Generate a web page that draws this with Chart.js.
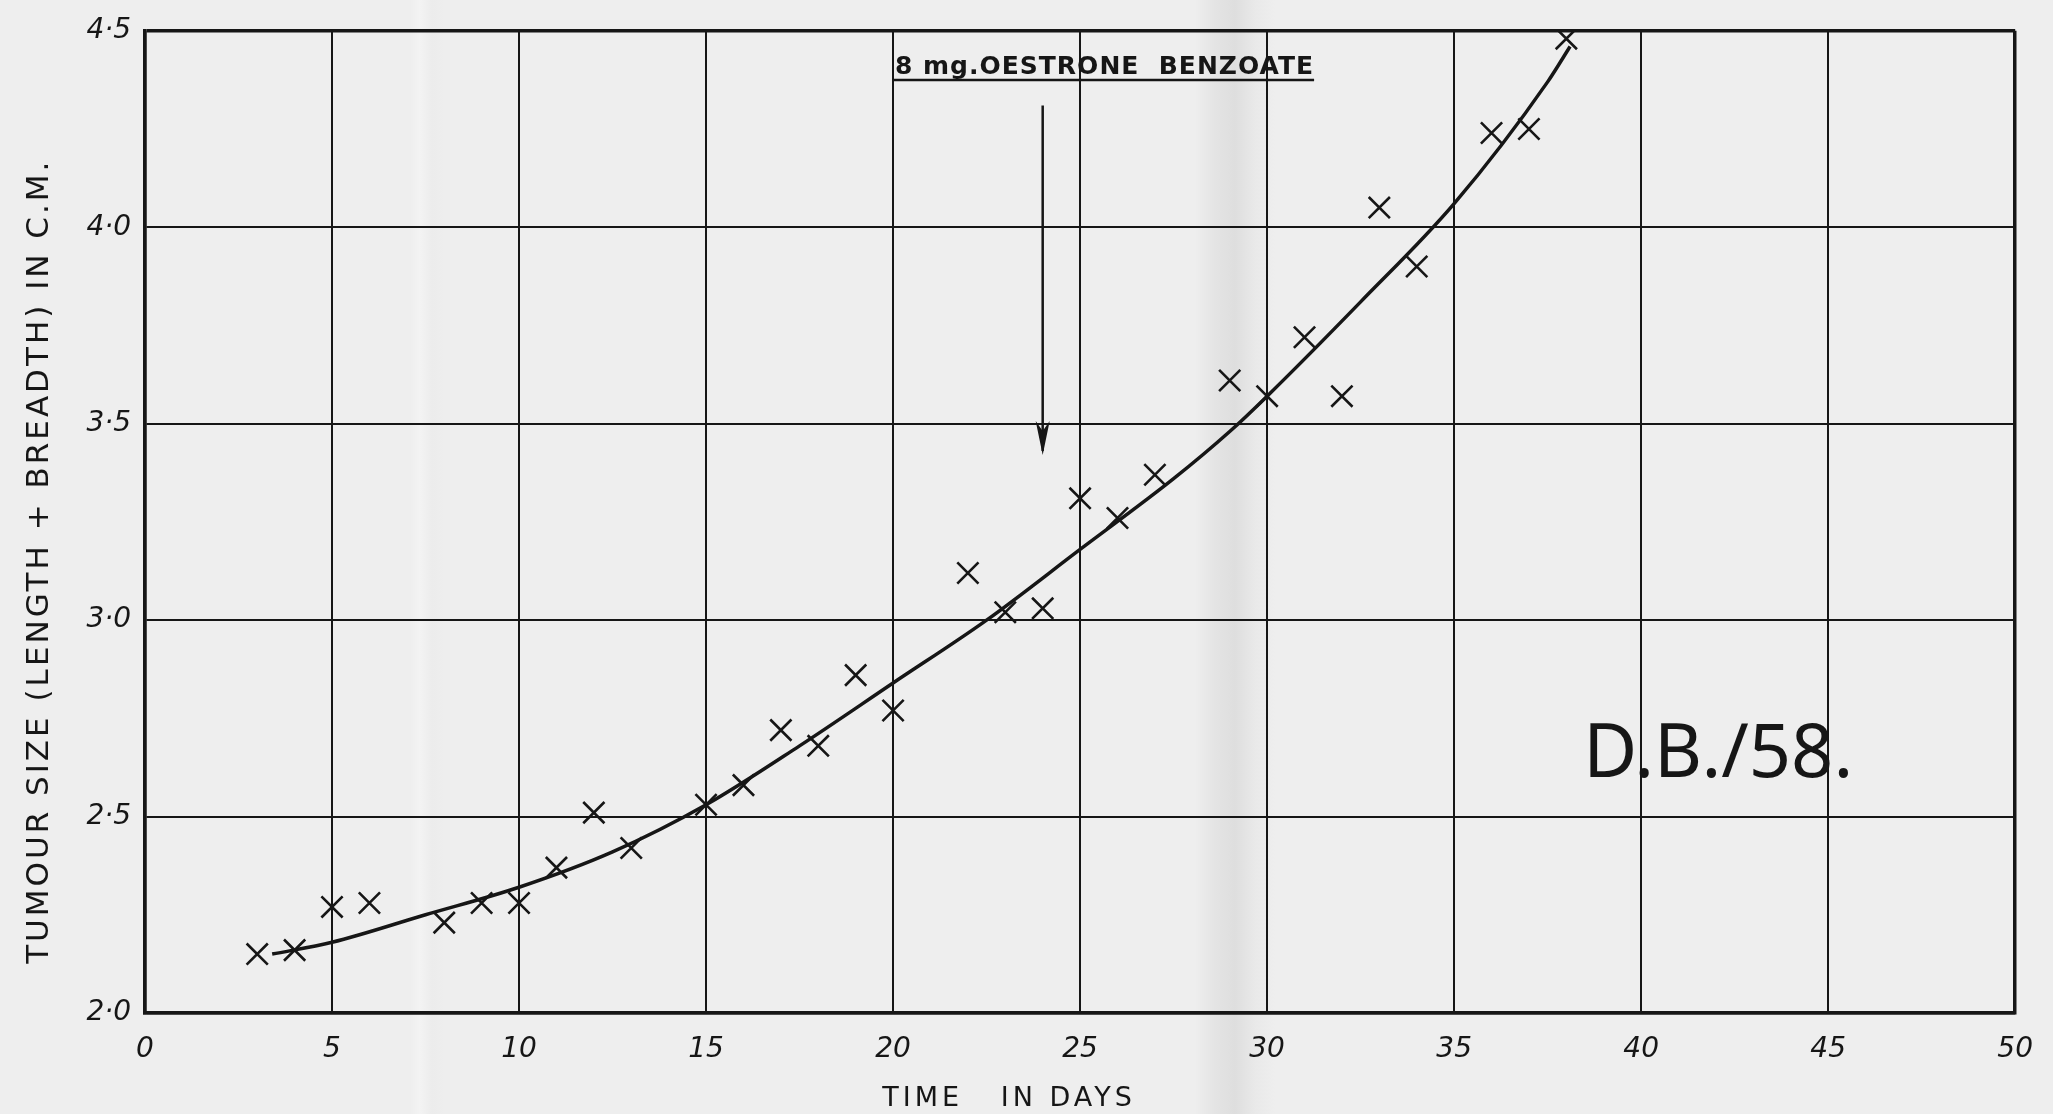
<!DOCTYPE html>
<html>
<head>
<meta charset="utf-8">
<title>D.B./58 - Tumour size</title>
<script src="https://cdn.jsdelivr.net/npm/chart.js@4.4.1/dist/chart.umd.min.js"></script>
<style>
  html, body {
    margin: 0;
    padding: 0;
    width: 2053px;
    height: 1114px;
    overflow: hidden;
    background: linear-gradient(to right,
      #eeeeee 0px, #eeeeee 410px, #f3f3f3 420px, #ececec 432px, #eeeeee 445px,
      #eeeeee 1195px, #e4e4e4 1215px, #dedede 1235px, #e9e9e9 1255px, #eeeeee 1275px);
  }
  #wrap { width: 2053px; height: 1114px; }
</style>
</head>
<body>
<div id="wrap"><canvas id="tumour-chart"></canvas></div>
<script>
// Observed measurements (crosses)
const observedDays = [3, 4, 5, 6, 8, 9, 10, 11, 12, 13, 15, 16, 17, 18, 19, 20,
  22, 23, 24, 25, 26, 27, 29, 30, 31, 32, 33, 34, 36, 37, 38];
const observedSize = [2.15, 2.16, 2.27, 2.28, 2.23, 2.28, 2.28, 2.37, 2.51, 2.42,
  2.53, 2.58, 2.72, 2.68, 2.86, 2.77, 3.12, 3.02, 3.03, 3.31, 3.26, 3.37,
  3.61, 3.57, 3.72, 3.57, 4.05, 3.90, 4.24, 4.25, 4.48];

// Hand drawn growth curve
const curveDays = [3.4, 5, 7.5, 10, 12.5, 15, 17.5, 20, 22.5, 25, 27.5, 29, 30, 32.5, 35, 37.5, 38.1];
const curveSize = [2.15, 2.18, 2.25, 2.32, 2.41, 2.53, 2.68, 2.84, 3.00, 3.18, 3.36, 3.48, 3.57, 3.81, 4.06, 4.37, 4.46];

// Tick labels
const xTickValues = [0, 5, 10, 15, 20, 25, 30, 35, 40, 45, 50];
const xTickLabels = ['0', '5', '10', '15', '20', '25', '30', '35', '40', '45', '50'];
const yTickValues = [2.0, 2.5, 3.0, 3.5, 4.0, 4.5];
const yTickLabels = ['2·0', '2·5', '3·0', '3·5', '4·0', '4·5'];

// Axis titles
const xTitle = 'TIME   IN DAYS';
const yTitle = 'TUMOUR SIZE (LENGTH + BREADTH) IN C.M.';

// Injection marker
const doseDay = 24;
const doseArrow = [4.31, 3.42];
const doseText = '8 mg.OESTRONE  BENZOATE';
const caseLabel = 'D.B./58.';

const INK = '#161616';

function toPoints(xs, ys) {
  return xs.map((x, i) => ({ x: x, y: ys[i] }));
}

// Draw the axis titles, the dose note with its arrow, and the case number
const notesPlugin = {
  id: 'notes',
  afterDatasetsDraw(chart) {
    const { ctx, scales: { x, y } } = chart;
    ctx.save();
    ctx.fillStyle = INK;
    ctx.strokeStyle = INK;

    // axis titles (hand lettered, a little off centre)
    ctx.letterSpacing = '4px';
    ctx.font = '27px "DejaVu Sans"';
    ctx.textAlign = 'center';
    ctx.textBaseline = 'middle';
    ctx.fillText(xTitle, x.getPixelForValue(23.1), 1099);

    ctx.save();
    ctx.translate(40, y.getPixelForValue(3.15));
    ctx.rotate(-Math.PI / 2);
    ctx.letterSpacing = '3px';
    ctx.font = '31px "DejaVu Sans"';
    ctx.fillText(yTitle, 0, 0);
    ctx.restore();

    // dose text, underlined
    ctx.letterSpacing = '1px';
    ctx.font = '600 25px "DejaVu Sans"';
    ctx.textBaseline = 'alphabetic';
    ctx.textAlign = 'left';
    const tx = x.getPixelForValue(20.05);
    const ty = y.getPixelForValue(4.39);
    ctx.fillText(doseText, tx, ty);
    const tw = ctx.measureText(doseText).width;
    ctx.lineWidth = 2.5;
    ctx.beginPath();
    ctx.moveTo(tx - 2, ty + 6);
    ctx.lineTo(tx + tw, ty + 6);
    ctx.stroke();

    // arrow
    const ax = x.getPixelForValue(doseDay);
    const ay0 = y.getPixelForValue(doseArrow[0]);
    const ay1 = y.getPixelForValue(doseArrow[1]);
    ctx.lineWidth = 2.5;
    ctx.beginPath();
    ctx.moveTo(ax, ay0);
    ctx.lineTo(ax, ay1 - 4);
    ctx.stroke();
    ctx.beginPath();
    ctx.moveTo(ax, ay1);
    ctx.lineTo(ax - 7, ay1 - 34);
    ctx.lineTo(ax, ay1 - 24);
    ctx.lineTo(ax + 7, ay1 - 34);
    ctx.closePath();
    ctx.fill();

    // case number
    ctx.letterSpacing = '0px';
    ctx.font = '400 74px "Noto Sans"';
    ctx.fillText(caseLabel, x.getPixelForValue(38.45), y.getPixelForValue(2.60));
    ctx.restore();
  }
};

function edgeWidth(value, lo, hi) {
  return (value === lo || value === hi) ? 3.5 : 2;
}

function initTumourChart() {
  const ctx = document.getElementById('tumour-chart');
  if (!ctx || typeof Chart === 'undefined') return;

  new Chart(ctx.getContext('2d'), {
    type: 'scatter',
    data: {
      datasets: [{
        label: 'Observed',
        data: toPoints(observedDays, observedSize),
        showLine: false,
        pointStyle: 'crossRot',
        pointRadius: 15,
        pointBorderWidth: 2.6,
        borderColor: INK,
        backgroundColor: INK
      }, {
        label: 'Curve',
        data: toPoints(curveDays, curveSize),
        showLine: true,
        pointRadius: 0,
        borderColor: INK,
        borderWidth: 3.5,
        cubicInterpolationMode: 'monotone'
      }]
    },
    options: {
      responsive: true,
      maintainAspectRatio: false,
      animation: false,
      events: [],
      layout: { padding: { top: 25, right: 31, bottom: 0, left: 0 } },
      plugins: {
        legend: { display: false },
        tooltip: { enabled: false }
      },
      scales: {
        x: {
          type: 'linear',
          min: 0,
          max: 50,
          afterFit(scale) { scale.height = 101; },
          afterBuildTicks(scale) {
            scale.ticks = xTickValues.map(v => ({ value: v }));
          },
          ticks: {
            padding: 20,
            color: INK,
            font: { family: '"DejaVu Sans"', size: 28, style: 'italic' },
            callback: (v) => xTickLabels[xTickValues.indexOf(v)]
          },
          grid: {
            color: INK,
            drawTicks: false,
            lineWidth: (c) => edgeWidth(c.tick && c.tick.value, 0, 50)
          },
          border: { color: INK, width: 3.5 }
        },
        y: {
          type: 'linear',
          min: 2.0,
          max: 4.5,
          afterFit(scale) { scale.width = 145; },
          afterBuildTicks(scale) {
            scale.ticks = yTickValues.map(v => ({ value: v }));
          },
          ticks: {
            padding: 14,
            color: INK,
            font: { family: '"DejaVu Sans"', size: 28, style: 'italic' },
            callback: (v) => yTickLabels[yTickValues.indexOf(v)]
          },
          grid: {
            color: INK,
            drawTicks: false,
            lineWidth: (c) => edgeWidth(c.tick && c.tick.value, 2.0, 4.5)
          },
          border: { color: INK, width: 3.5 }
        }
      }
    },
    plugins: [notesPlugin]
  });
}

initTumourChart();
</script>
</body>
</html>
